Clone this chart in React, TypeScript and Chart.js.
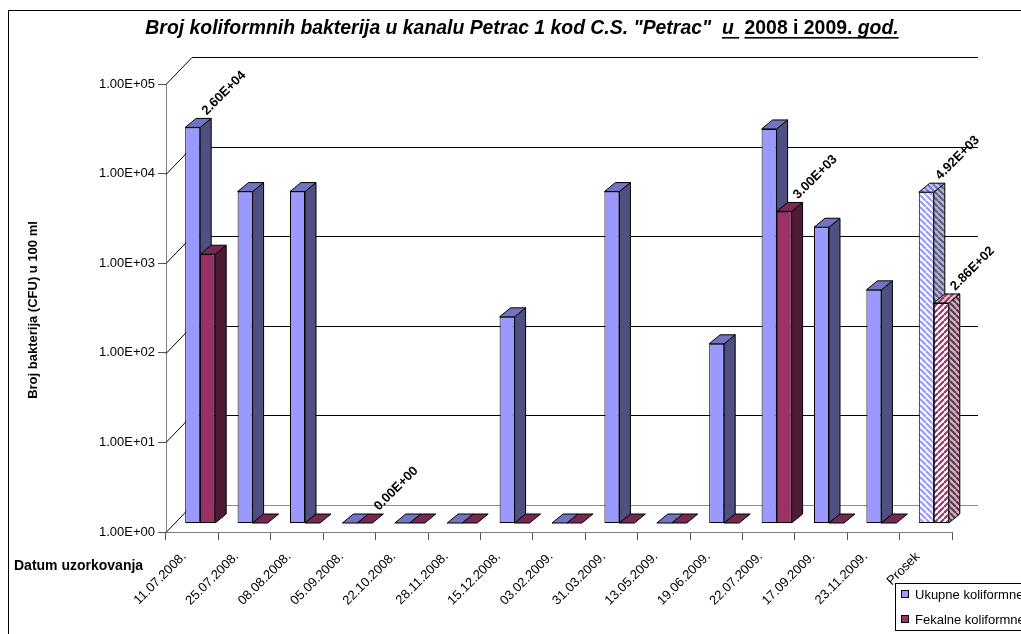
import React, { useEffect, useRef } from 'react';
import { Chart, registerables } from 'chart.js';

Chart.register(...registerables);

// ---------- DATA ----------
const CATEGORIES = [
  '11.07.2008.', '25.07.2008.', '08.08.2008.', '05.09.2008.', '22.10.2008.',
  '28.11.2008.', '15.12.2008.', '03.02.2009.', '31.03.2009.', '13.05.2009.',
  '19.06.2009.', '22.07.2009.', '17.09.2009.', '23.11.2009.', 'Prosek',
];
const UKUPNE = [26000, 5000, 5000, 0, 0, 0, 200, 0, 5000, 0, 100, 25000, 2000, 400, 4920];
const FEKALNE = [1000, 0, 0, 0, 0, 0, 0, 0, 0, 0, 0, 3000, 0, 0, 286];
const SERIES_NAMES = ['Ukupne koliformne', 'Fekalne koliformne'];
const Y_TICK_VALUES = [1, 10, 100, 1000, 10000, 100000];
const Y_TICK_LABELS = ['1.00E+00', '1.00E+01', '1.00E+02', '1.00E+03', '1.00E+04', '1.00E+05'];
// [series index, category index] of bars that carry a value label
const LABELED_BARS = [[0, 0], [1, 3], [1, 11], [0, 14], [1, 14]];
const AVERAGE_CATEGORY = 'Prosek';
const TITLE_MAIN = 'Broj koliformnih bakterija u kanalu Petrac 1 kod C.S. "Petrac"  ';
const TITLE_U = 'u ';
const TITLE_YEARS = '2008 i 2009.';
const TITLE_GOD = ' god.';
const Y_TITLE = 'Broj bakterija (CFU) u 100 ml';
const X_TITLE = 'Datum uzorkovanja';

// ---------- STYLE ----------
const FONT = '"Liberation Sans", Arial, Helvetica, sans-serif';
const SHIFT_X = 8;
const SHIFT_Y = -9;
const DEPTH_X = 11;
const DEPTH_Y = -9;
const WALL_X = 26;
const WALL_Y = -27;

const BLUE = { front: '#9999FF', side: '#4F4F82', top: '#7373C4' };
const RED = { front: '#993366', side: '#4F1A36', top: '#752850' };

function sci(v: number): string {
  const [m, e] = v.toExponential(2).split('e');
  const n = parseInt(e, 10);
  return `${m}E${n < 0 ? '-' : '+'}${String(Math.abs(n)).padStart(2, '0')}`;
}

function makeHatch(bg: string, fg: string, dir: 1 | -1): CanvasPattern | string {
  const s = 6;
  const c = document.createElement('canvas');
  c.width = s;
  c.height = s;
  const g = c.getContext('2d');
  if (!g) return bg;
  g.fillStyle = bg;
  g.fillRect(0, 0, s, s);
  g.strokeStyle = fg;
  g.lineWidth = 2.2;
  g.beginPath();
  for (const k of [-s, 0, s]) {
    if (dir === 1) {
      g.moveTo(k, 0);
      g.lineTo(k + s, s);
    } else {
      g.moveTo(k, s);
      g.lineTo(k + s, 0);
    }
  }
  g.stroke();
  const p = g.createPattern(c, 'repeat');
  return p || bg;
}

export default function App() {
  const ref = useRef<HTMLCanvasElement | null>(null);

  useEffect(() => {
    const canvas = ref.current;
    if (!canvas) return;
    Chart.defaults.font.family = FONT;
    Chart.defaults.color = '#000';

    const avgIdx = CATEGORIES.indexOf(AVERAGE_CATEGORY);
    const hatch = {
      blue: {
        front: makeHatch('#ffffff', '#9999FF', 1),
        side: makeHatch('#b8b8cc', '#5d5d8a', 1),
        top: makeHatch('#c8c8ee', '#7777CC', 1),
      },
      red: {
        front: makeHatch('#ffffff', '#993366', -1),
        side: makeHatch('#c8bcc2', '#6a3050', 1),
        top: makeHatch('#e2c4d2', '#993366', -1),
      },
    };
    const faces = [
      CATEGORIES.map((_, i) => (i === avgIdx ? hatch.blue : BLUE)),
      CATEGORIES.map((_, i) => (i === avgIdx ? hatch.red : RED)),
    ];
    const seriesValues = [UKUPNE, FEKALNE];
    const yMin = Y_TICK_VALUES[0];
    const yMax = Y_TICK_VALUES[Y_TICK_VALUES.length - 1];

    const line = (ctx: CanvasRenderingContext2D, x1: number, y1: number, x2: number, y2: number) => {
      ctx.beginPath();
      ctx.moveTo(x1, y1);
      ctx.lineTo(x2, y2);
      ctx.stroke();
    };

    const threeD = {
      id: 'threeD',
      beforeDatasetsDraw(chart: any) {
        const ctx: CanvasRenderingContext2D = chart.ctx;
        const { left, right } = chart.chartArea;
        const ys = chart.scales.y;
        ctx.save();
        ctx.lineWidth = 1;
        Y_TICK_VALUES.forEach((v) => {
          const py = Math.round(ys.getPixelForValue(v)) + 0.5;
          ctx.strokeStyle = '#000';
          line(ctx, left, py, left + WALL_X, py + WALL_Y);
          ctx.strokeStyle = v === yMin ? '#8a8a8a' : '#000';
          line(ctx, left + WALL_X, py + WALL_Y, right + WALL_X, py + WALL_Y);
        });
        ctx.restore();
      },
      beforeDatasetDraw() {
        return false;
      },
      afterDatasetsDraw(chart: any) {
        const ctx: CanvasRenderingContext2D = chart.ctx;
        [0, 1].forEach((di) => {
          const meta = chart.getDatasetMeta(di);
          ctx.save();
          ctx.translate(SHIFT_X, SHIFT_Y);
          meta.data.forEach((el: any, i: number) => {
            const f: any = faces[di][i];
            const { x, y, base, width } = el.getProps(['x', 'y', 'base', 'width'], true);
            const l = x - width / 2;
            const r = x + width / 2;
            el.draw(ctx);
            ctx.lineWidth = 1;
            ctx.strokeStyle = '#000';
            if (base - y > 0.5) {
              ctx.beginPath();
              ctx.moveTo(r, y);
              ctx.lineTo(r + DEPTH_X, y + DEPTH_Y);
              ctx.lineTo(r + DEPTH_X, base + DEPTH_Y);
              ctx.lineTo(r, base);
              ctx.closePath();
              ctx.fillStyle = f.side;
              ctx.fill();
              ctx.stroke();
            }
            ctx.beginPath();
            ctx.moveTo(l, y);
            ctx.lineTo(r, y);
            ctx.lineTo(r + DEPTH_X, y + DEPTH_Y);
            ctx.lineTo(l + DEPTH_X, y + DEPTH_Y);
            ctx.closePath();
            ctx.fillStyle = f.top;
            ctx.fill();
            ctx.stroke();
          });
          ctx.restore();
        });
        // value labels
        ctx.save();
        ctx.fillStyle = '#000';
        ctx.font = `bold 13px ${FONT}`;
        ctx.textAlign = 'left';
        ctx.textBaseline = 'alphabetic';
        LABELED_BARS.forEach(([di, i]) => {
          const el = chart.getDatasetMeta(di).data[i];
          if (!el) return;
          const tx = el.x + SHIFT_X + 14;
          const ty = el.y + SHIFT_Y + DEPTH_Y - 3;
          ctx.save();
          ctx.translate(tx, ty);
          ctx.rotate(-Math.PI / 4);
          ctx.fillText(sci(seriesValues[di][i]), 0, 0);
          ctx.restore();
        });
        ctx.restore();
      },
    };

    const decor = {
      id: 'decor',
      afterDraw(chart: any) {
        const ctx: CanvasRenderingContext2D = chart.ctx;
        ctx.save();
        // outer frame
        ctx.strokeStyle = '#000';
        ctx.lineWidth = 1;
        ctx.strokeRect(8.5, 10.5, 1100, 700);

        // title
        const size = 19.4;
        const fIt = `italic bold ${size}px ${FONT}`;
        const fUp = `bold ${size}px ${FONT}`;
        const parts = [
          { t: TITLE_MAIN, f: fIt, u: false },
          { t: TITLE_U, f: fIt, u: true },
          { t: ' ', f: fIt, u: false },
          { t: TITLE_YEARS, f: fUp, u: true },
          { t: TITLE_GOD, f: fIt, u: true },
        ];
        let total = 0;
        const widths = parts.map((p) => {
          ctx.font = p.f;
          const w = ctx.measureText(p.t).width;
          total += w;
          return w;
        });
        let cx = 522 - total / 2;
        const baseY = 34;
        ctx.fillStyle = '#000';
        ctx.textBaseline = 'alphabetic';
        ctx.textAlign = 'left';
        parts.forEach((p, k) => {
          ctx.font = p.f;
          ctx.fillText(p.t, cx, baseY);
          if (p.u) {
            ctx.fillRect(cx, baseY + 3, widths[k], 1.6);
          }
          cx += widths[k];
        });

        // y axis title
        ctx.save();
        ctx.font = `bold 13px ${FONT}`;
        ctx.translate(33, 310);
        ctx.rotate(-Math.PI / 2);
        ctx.textAlign = 'center';
        ctx.textBaseline = 'middle';
        ctx.fillText(Y_TITLE, 0, 0);
        ctx.restore();

        // x axis title
        ctx.font = `bold 14px ${FONT}`;
        ctx.textAlign = 'left';
        ctx.textBaseline = 'alphabetic';
        ctx.fillText(X_TITLE, 14, 570);

        // legend
        ctx.fillStyle = '#fff';
        ctx.fillRect(895.5, 583.5, 200, 47);
        ctx.strokeStyle = '#000';
        ctx.strokeRect(895.5, 583.5, 200, 47);
        const legendColors = [BLUE.front, RED.front];
        ctx.font = `13px ${FONT}`;
        SERIES_NAMES.forEach((name, k) => {
          const my = 590 + k * 25;
          ctx.fillStyle = legendColors[k];
          ctx.fillRect(901.5, my + 0.5, 7, 7);
          ctx.strokeStyle = '#000';
          ctx.strokeRect(901.5, my + 0.5, 7, 7);
          ctx.fillStyle = '#000';
          ctx.fillText(name, 915, my + 8.5);
        });
        ctx.restore();
      },
    };

    const chart = new Chart(canvas, {
      type: 'bar',
      data: {
        labels: CATEGORIES,
        datasets: [
          {
            label: SERIES_NAMES[0],
            data: UKUPNE.map((v) => (v > 0 ? v : yMin)),
            backgroundColor: faces[0].map((f: any) => f.front),
            borderColor: '#000',
            borderWidth: 1,
            borderSkipped: false,
            categoryPercentage: 0.5725,
            barPercentage: 1,
          },
          {
            label: SERIES_NAMES[1],
            data: FEKALNE.map((v) => (v > 0 ? v : yMin)),
            backgroundColor: faces[1].map((f: any) => f.front),
            borderColor: '#000',
            borderWidth: 1,
            borderSkipped: false,
            categoryPercentage: 0.5725,
            barPercentage: 1,
          },
        ],
      },
      options: {
        animation: false,
        responsive: false,
        devicePixelRatio: 1,
        layout: { padding: { left: 0, top: 84, right: 69, bottom: 0 } },
        plugins: {
          legend: { display: false },
          title: { display: false },
          tooltip: { enabled: false },
        },
        scales: {
          x: {
            type: 'category',
            offset: true,
            grid: { display: true, drawOnChartArea: false, drawTicks: true, tickLength: 8, color: '#555', offset: true },
            border: { display: true, color: '#808080' },
            ticks: {
              autoSkip: false,
              minRotation: 45,
              maxRotation: 45,
              color: '#000',
              padding: 9,
              labelOffset: -8,
              font: { size: 13, family: FONT },
            },
            afterFit: (s: any) => {
              s.height = 102;
            },
          },
          y: {
            type: 'logarithmic',
            min: yMin,
            max: yMax,
            grid: { display: true, drawOnChartArea: false, drawTicks: true, tickLength: 8, color: '#555' },
            border: { display: true, color: '#808080' },
            afterBuildTicks: (s: any) => {
              s.ticks = Y_TICK_VALUES.map((v) => ({ value: v }));
            },
            ticks: {
              autoSkip: false,
              color: '#000',
              padding: 3,
              font: { size: 13, family: FONT },
              callback: (_v: any, i: number) => Y_TICK_LABELS[i],
            },
            afterFit: (s: any) => {
              s.width = 166;
            },
          },
        },
      },
      plugins: [threeD, decor],
    } as any);

    return () => chart.destroy();
  }, []);

  return (
    <div style={{ position: 'fixed', left: 0, top: 0, width: 1021, height: 634, background: '#fff' }}>
      <canvas ref={ref} width={1021} height={634} style={{ display: 'block' }} />
    </div>
  );
}
